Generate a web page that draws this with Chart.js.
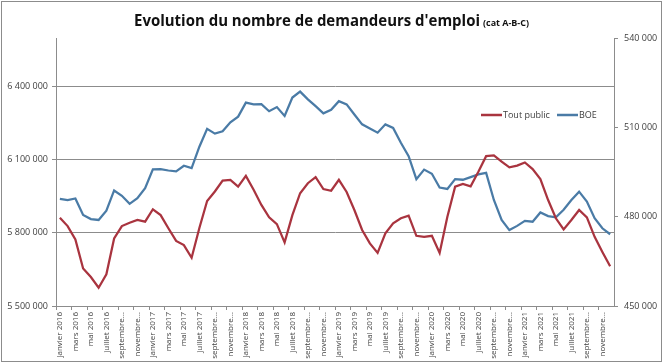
<!DOCTYPE html>
<html lang="fr">
<head>
<meta charset="utf-8">
<title>Evolution du nombre de demandeurs d'emploi</title>
<script src="https://cdn.jsdelivr.net/npm/chart.js@4.4.1/dist/chart.umd.min.js"></script>
<style>
  html, body { margin: 0; padding: 0; background: #fff; }
  #wrap { width: 663px; height: 364px; position: relative; }
</style>
</head>
<body>
<div id="wrap"><canvas id="demandeursChart"></canvas></div>
<script>
// --- Données ---
const mois = ['janvier', 'février', 'mars', 'avril', 'mai', 'juin', 'juillet', 'août', 'septembre', 'octobre', 'novembre', 'décembre'];
const annees = [2016, 2017, 2018, 2019, 2020, 2021];
const categories = annees.flatMap(a => mois.map(m => m + ' ' + a));

// Tout public (axe gauche)
const toutPublic = [
    5862000, 5828000, 5773000, 5654000, 5619000, 5575000, 5630000, 5777000, 5828000, 5842000, 5853000, 5846000,
    5897000, 5873000, 5819000, 5767000, 5750000, 5698000, 5820000, 5931000, 5970000, 6015000, 6018000, 5990000,
    6034000, 5977000, 5915000, 5864000, 5836000, 5761000, 5873000, 5963000, 6004000, 6029000, 5980000, 5973000,
    6018000, 5968000, 5894000, 5812000, 5757000, 5718000, 5798000, 5839000, 5860000, 5871000, 5788000, 5784000,
    5788000, 5718000, 5866000, 5990000, 6001000, 5991000, 6051000, 6115000, 6118000, 6093000, 6069000, 6076000,
    6089000, 6062000, 6021000, 5935000, 5860000, 5814000, 5853000, 5894000, 5864000, 5784000, 5722000, 5663000
];

// BOE (axe droit)
const boe = [
    486000, 485600, 486100, 480600, 479200, 478900, 482000, 488800, 487000, 484300, 486200, 489600,
    495900, 496000, 495500, 495200, 497100, 496300, 503500, 509500, 507900, 508700, 511700, 513600,
    518300, 517700, 517800, 515400, 516800, 513800, 520000, 522000, 519400, 517100, 514700, 515900,
    518800, 517700, 514300, 511000, 509600, 508200, 511000, 509800, 504800, 500300, 492600, 495800,
    494400, 489800, 489300, 492600, 492400, 493300, 494200, 494700, 485600, 478900, 475500, 476900,
    478600, 478300, 481400, 480200, 479800, 482300, 485600, 488400, 485100, 479500, 476100, 474100
];

const ticksGauche = [5500000, 5800000, 6100000, 6400000];
const ticksDroite = [450000, 480000, 510000, 540000];

const rouge = '#A9343F';
const bleu = '#4A7BA6';
const gris = '#8C8C8C';
const texte = '#404040';

function formatNombre(v) {
    return String(v).replace(/\B(?=(\d{3})+(?!\d))/g, ' ');
}

// Titre, légende et cadre dessinés à la main (comme dans Excel)
const decorPlugin = {
    id: 'decor',
    afterDraw(chart) {
        const c = chart.ctx;
        c.save();

        // cadre
        c.strokeStyle = gris;
        c.lineWidth = 1;
        c.strokeRect(1.5, 1.5, 660, 360);

        // titre
        c.fillStyle = '#111';
        c.textBaseline = 'alphabetic';
        c.textAlign = 'left';
        const titre = "Evolution du nombre de demandeurs d'emploi";
        c.font = 'bold 16px "Open Sans"';
        let w = c.measureText(titre).width;
        c.save();
        c.translate(134, 26);
        c.scale(346 / w, 1);
        c.fillText(titre, 0, 0);
        c.restore();
        const sous = '(cat A-B-C)';
        c.font = 'bold 8px "Open Sans"';
        w = c.measureText(sous).width;
        c.save();
        c.translate(483, 26);
        c.scale(46 / w, 1);
        c.fillText(sous, 0, 0);
        c.restore();

        // légende
        const items = [
            { x: 481, ds: chart.data.datasets[0] },
            { x: 557, ds: chart.data.datasets[1] }
        ];
        c.font = '9px "Open Sans"';
        c.textBaseline = 'middle';
        items.forEach(it => {
            c.strokeStyle = it.ds.borderColor;
            c.lineWidth = 2.5;
            c.beginPath();
            c.moveTo(it.x, 115);
            c.lineTo(it.x + 21, 115);
            c.stroke();
            c.fillStyle = texte;
            c.fillText(it.ds.label, it.x + 22, 115);
        });

        c.restore();
    }
};

const ctx = document.getElementById('demandeursChart');

new Chart(ctx, {
    type: 'line',
    data: {
        labels: categories,
        datasets: [{
            label: 'Tout public',
            data: toutPublic,
            yAxisID: 'y',
            borderColor: rouge,
            borderWidth: 2.25,
            pointRadius: 0,
            tension: 0
        }, {
            label: 'BOE',
            data: boe,
            yAxisID: 'y1',
            borderColor: bleu,
            borderWidth: 2.25,
            pointRadius: 0,
            tension: 0
        }]
    },
    options: {
        responsive: true,
        maintainAspectRatio: false,
        animation: false,
        layout: { padding: { top: 38, left: 0, right: 0, bottom: 0 } },
        plugins: {
            legend: { display: false },
            title: { display: false },
            tooltip: { enabled: false }
        },
        scales: {
            x: {
                offset: true,
                afterFit: s => { s.height = 58; },
                border: { display: true, color: gris },
                grid: {
                    offset: true,
                    drawOnChartArea: false,
                    tickLength: 4,
                    color: c => (c.index % 2 === 0 ? gris : 'rgba(0,0,0,0)')
                },
                ticks: {
                    autoSkip: false,
                    maxRotation: 90,
                    minRotation: 90,
                    padding: 2,
                    color: texte,
                    font: { family: 'Open Sans', size: 8 },
                    callback: function (v, i) {
                        if (i % 2 !== 0) return '';
                        const lab = categories[i];
                        return lab.length > 12 ? lab.split(' ')[0] + '…' : lab;
                    }
                }
            },
            y: {
                position: 'left',
                min: 5500000,
                max: 6600000,
                afterFit: s => { s.width = 56; },
                afterBuildTicks: s => { s.ticks = ticksGauche.map(v => ({ value: v })); },
                border: { display: true, color: gris },
                grid: { color: gris, tickLength: 4 },
                ticks: {
                    padding: 4,
                    color: texte,
                    font: { family: 'Open Sans', size: 9 },
                    callback: v => formatNombre(v)
                }
            },
            y1: {
                position: 'right',
                min: 450000,
                max: 540000,
                afterFit: s => { s.width = 49; },
                afterBuildTicks: s => { s.ticks = ticksDroite.map(v => ({ value: v })); },
                border: { display: true, color: gris },
                grid: { drawOnChartArea: false, color: gris, tickLength: 4 },
                ticks: {
                    padding: 6,
                    color: texte,
                    font: { family: 'Open Sans', size: 9 },
                    callback: v => formatNombre(v)
                }
            }
        }
    },
    plugins: [decorPlugin]
});
</script>
</body>
</html>
